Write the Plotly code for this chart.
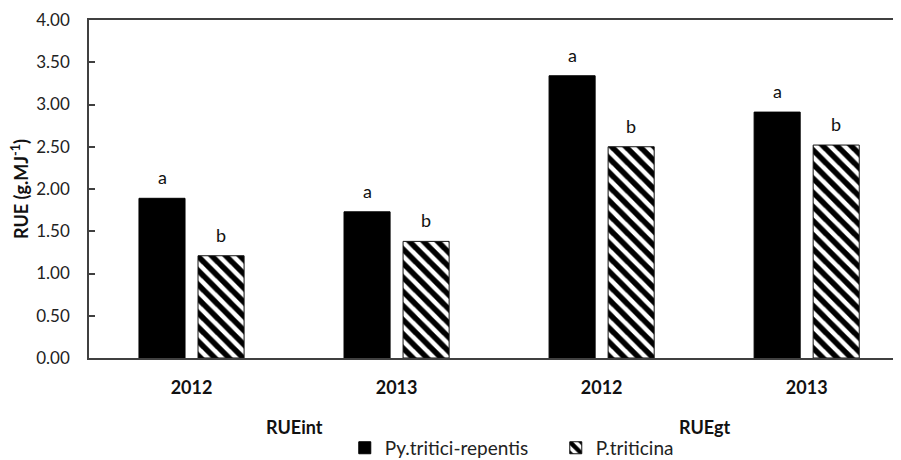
import plotly.graph_objects as go

years = ["2012", "2013", "2012", "2013"]
groups = ["RUEint", "RUEgt"]
series_names = ["Py.tritici-repentis", "P.triticina"]
pyr_values = [1.89, 1.73, 3.34, 2.91]
ptr_values = [1.21, 1.38, 2.50, 2.52]
pyr_letters = ["a", "a", "a", "a"]
ptr_letters = ["b", "b", "b", "b"]
y_ticks = [0, 0.5, 1, 1.5, 2, 2.5, 3, 3.5, 4]

FONT = "Lato"
xpos = list(range(len(years)))
bargap = 0.424
off = (1 - bargap) / 4

fig = go.Figure()
fig.add_trace(go.Bar(
    x=xpos, y=pyr_values, name=series_names[0],
    marker=dict(color="black", line=dict(color="black", width=1)),
))
fig.add_trace(go.Bar(
    x=xpos, y=ptr_values, name=series_names[1],
    marker=dict(color="white", line=dict(color="#111", width=1),
                pattern=dict(shape="\\", fgcolor="black", bgcolor="white",
                             size=10, solidity=0.55, fgopacity=1)),
))

ann = []
for i in xpos:
    ann.append(dict(x=i - off, y=pyr_values[i], text=pyr_letters[i], showarrow=False,
                    yanchor="bottom", yshift=8, font=dict(family=FONT, size=18, color="#111")))
    ann.append(dict(x=i + off, y=ptr_values[i], text=ptr_letters[i], showarrow=False,
                    yanchor="bottom", yshift=8, font=dict(family=FONT, size=18, color="#111")))
for gi, g in enumerate(groups):
    ann.append(dict(x=gi * 2 + 0.5, xref="x", y=-0.204, yref="paper", text="<b>%s</b>" % g,
                    showarrow=False, yanchor="middle",
                    font=dict(family=FONT, size=18, color="#111")))
fig.update_layout(annotations=ann)

fig.update_layout(
    width=893, height=452,
    margin=dict(l=81, r=0, t=12, b=102, autoexpand=False),
    paper_bgcolor="white", plot_bgcolor="white",
    barmode="group", bargap=bargap, bargroupgap=0.22,
    font=dict(family=FONT, color="#111"),
    showlegend=True,
    legend=dict(orientation="h", x=0.315, y=-0.266, xanchor="left", yanchor="middle",
                entrywidth=166, entrywidthmode="pixels",
                font=dict(family=FONT, size=19, color="#222"),
                itemwidth=30, tracegroupgap=0, bgcolor="rgba(0,0,0,0)"),
    xaxis=dict(range=[-0.5, 3.46], tickmode="array", tickvals=xpos,
               ticktext=["<b>%s</b>" % y for y in years],
               tickfont=dict(family=FONT, size=18, color="#111"),
               showline=True, linecolor="#404040", linewidth=1.5, mirror=True,
               ticks="", showgrid=False, zeroline=False, ticklabelstandoff=13,
               automargin=False),
    yaxis=dict(range=[0, 4], tickmode="array", tickvals=y_ticks,
               ticktext=["%.2f" % v for v in y_ticks],
               tickfont=dict(family=FONT, size=17, color="#222"),
               showline=True, linecolor="#404040", linewidth=1.5,
               ticks="inside", ticklen=6, tickcolor="#404040", tickwidth=1.5,
               showgrid=False, zeroline=False, ticklabelstandoff=14,
               automargin=False,
               title=dict(text="<b>RUE (g.MJ<sup>-1</sup>)</b>", standoff=12,
                          font=dict(family=FONT, size=18, color="#111"))),
)

fig.write_html("out.html")
